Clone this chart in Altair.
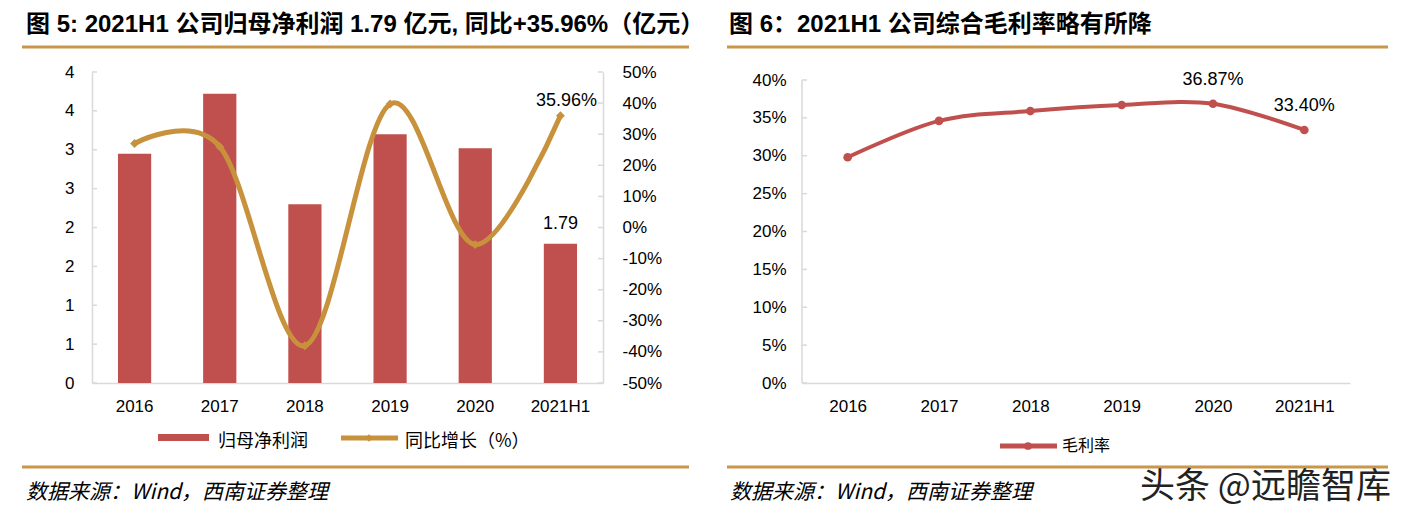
import altair as alt
import pandas as pd

# ---------------- data ----------------
years = ["2016", "2017", "2018", "2019", "2020", "2021H1"]
net_profit = [2.95, 3.72, 2.30, 3.20, 3.02, 1.79]          # 归母净利润（亿元）
growth = [27.0, 26.0, -38.0, 39.7, -5.5, 35.96]             # 同比增长（%）
gross_margin = [29.8, 34.6, 35.9, 36.7, 36.87, 33.40]       # 毛利率（%）

left_ticks = [0, 0.5, 1, 1.5, 2, 2.5, 3, 3.5, 4]
right_ticks = [-50, -40, -30, -20, -10, 0, 10, 20, 30, 40, 50]
gm_ticks = [0, 5, 10, 15, 20, 25, 30, 35, 40]

title_left = "图 5: 2021H1 公司归母净利润 1.79 亿元, 同比+35.96%（亿元）"
title_right = "图 6：2021H1 公司综合毛利率略有所降"
source_text = "数据来源：Wind，西南证券整理"
legend_bar = "归母净利润"
legend_line = "同比增长（%）"
legend_gm = "毛利率"
watermark = "头条 @远瞻智库"

# ---------------- styles ----------------
RED = "#C0504D"
GOLD = "#C8913C"
RULE = "#C9964A"
GREY = "#D9D9D9"
FONT = "Liberation Sans, Arial, Noto Sans CJK SC"
CJK = "Noto Sans CJK SC"
W1, W2, H = 511, 548, 311
GM_TOP = 40 * 311 / 303

one = pd.DataFrame({"k": [0]})
df1 = pd.DataFrame({"year": years, "profit": net_profit, "growth": growth})
df2 = pd.DataFrame({"year": years, "gm": gross_margin})


def txt(text, x, y, size, weight="normal", style="normal", font=FONT, color="black", align="left"):
    return alt.Chart(one).mark_text(
        text=text, align=align, baseline="middle", font=font, fontSize=size,
        fontWeight=weight, fontStyle=style, color=color
    ).encode(x=alt.value(x), y=alt.value(y))


def hrule(x1, x2, y, color=RULE, w=3):
    return alt.Chart(one).mark_rule(color=color, strokeWidth=w).encode(
        x=alt.value(x1), x2=alt.value(x2), y=alt.value(y))


label_axis = dict(labelFont=FONT, labelFontSize=17, labelColor="black", title=None,
                  labelOverlap=False)

# ---------------- left panel ----------------
x1 = alt.X("year:N", sort=years,
           scale=alt.Scale(paddingInner=0.61, paddingOuter=0.305),
           axis=alt.Axis(labelAngle=0, domainColor=GREY, domainWidth=1.5, ticks=False,
                         labelPadding=15, **label_axis))

sc_p = alt.Scale(domain=[0, 4], nice=False, zero=False)
sc_g = alt.Scale(domain=[-50, 50], nice=False, zero=False)

bars = alt.Chart(df1).mark_bar(color=RED).encode(
    x=x1,
    y=alt.Y("profit:Q", scale=sc_p,
            axis=alt.Axis(orient="left", values=left_ticks, labelExpr="'' + round(datum.value)",
                          domainColor=GREY, domainWidth=1.5, ticks=False, grid=False,
                          labelPadding=18, **label_axis)))

bar_label = alt.Chart(df1).transform_filter("datum.year == '2021H1'").mark_text(
    font=FONT, fontSize=18, baseline="bottom", dy=-11, color="black"
).encode(x=x1,
         y=alt.Y("profit:Q", scale=sc_p, axis=None),
         text=alt.Text("profit:Q", format=".2f"))

line = alt.Chart(df1).mark_line(color=GOLD, strokeWidth=5, interpolate="cardinal").encode(
    x=x1,
    y=alt.Y("growth:Q", scale=sc_g,
            axis=alt.Axis(orient="right", values=right_ticks, labelExpr="datum.value + '%'",
                          domainColor=GREY, domainWidth=1.5, ticks=False, grid=False,
                          labelPadding=19, **label_axis)))

pts = alt.Chart(df1).mark_point(shape="diamond", filled=True, size=80, color=GOLD, opacity=1).encode(
    x=x1,
    y=alt.Y("growth:Q", scale=sc_g, axis=None))

line_label = alt.Chart(df1).transform_filter("datum.year == '2021H1'").transform_calculate(
    lab="format(datum.growth, '.2f') + '%'"
).mark_text(font=FONT, fontSize=18, baseline="bottom", dy=-6, dx=6, color="black").encode(
    x=x1,
    y=alt.Y("growth:Q", scale=sc_g, axis=None),
    text="lab:N")

ticks_l = alt.Chart(pd.DataFrame({"v": left_ticks})).mark_rule(color=GREY, strokeWidth=1.5).encode(
    y=alt.Y("v:Q", scale=sc_p, axis=None), x=alt.value(0), x2=alt.value(5))
ticks_r = alt.Chart(pd.DataFrame({"v": right_ticks})).mark_rule(color=GREY, strokeWidth=1.5).encode(
    y=alt.Y("v:Q", scale=sc_g, axis=None), x=alt.value(W1 - 5), x2=alt.value(W1))

left_annot = [
    txt(title_left, -66, -47, 24, weight="bold"),
    hrule(-70, 597, -25),
    alt.Chart(one).mark_rect(color=RED).encode(
        x=alt.value(66), x2=alt.value(117), y=alt.value(362), y2=alt.value(369)),
    txt(legend_bar, 126, 370, 18, font=CJK),
    hrule(249, 306, 366, color=GOLD, w=5),
    alt.Chart(one).mark_point(shape="diamond", filled=True, size=60, color=GOLD, opacity=1).encode(
        x=alt.value(277), y=alt.value(366)),
    txt(legend_line, 313, 370, 18, font=CJK),
    hrule(-70, 597, 395),
    txt(source_text, -66, 421, 21, style="italic", font=CJK),
]

left = alt.layer(bars, bar_label, ticks_l, line, pts, line_label, ticks_r, *left_annot).resolve_scale(
    y="independent").properties(width=W1, height=H)

# ---------------- right panel ----------------
x2 = alt.X("year:N", sort=years, scale=alt.Scale(type="point", padding=0.5),
           axis=alt.Axis(labelAngle=0, domainColor=GREY, domainWidth=1.5, ticks=False,
                         labelPadding=15, **label_axis))
sc_m = alt.Scale(domain=[0, GM_TOP], nice=False, zero=False)
ax_m = alt.Axis(orient="left", values=gm_ticks, labelExpr="datum.value + '%'",
                domain=False, ticks=False, grid=False, labelPadding=16, **label_axis)

gm_axisline = alt.Chart(pd.DataFrame({"a": [0], "b": [40]})).mark_rule(color=GREY, strokeWidth=1.5).encode(
    y=alt.Y("a:Q", scale=sc_m, axis=ax_m), y2="b:Q", x=alt.value(0))
gm_ticks_l = alt.Chart(pd.DataFrame({"v": gm_ticks})).mark_rule(color=GREY, strokeWidth=1.5).encode(
    y=alt.Y("v:Q", scale=sc_m, axis=ax_m), x=alt.value(0), x2=alt.value(5))
gm_line = alt.Chart(df2).mark_line(color=RED, strokeWidth=4, interpolate="cardinal").encode(
    x=x2, y=alt.Y("gm:Q", scale=sc_m, axis=ax_m))
gm_pts = alt.Chart(df2).mark_point(shape="circle", filled=True, size=75, color=RED, opacity=1).encode(
    x=x2, y=alt.Y("gm:Q", scale=sc_m, axis=ax_m))
gm_lab = alt.Chart(df2).transform_filter("datum.year == '2020' || datum.year == '2021H1'").transform_calculate(
    lab="format(datum.gm, '.2f') + '%'"
).mark_text(font=FONT, fontSize=18, baseline="bottom", dy=-15, color="black").encode(
    x=x2, y=alt.Y("gm:Q", scale=sc_m, axis=ax_m), text="lab:N")

right_annot = [
    txt(title_right, -73, -47, 24, weight="bold"),
    hrule(-75, 586, -25),
    hrule(198, 255, 374, color=RED, w=5),
    alt.Chart(one).mark_point(shape="circle", filled=True, size=60, color=RED, opacity=1).encode(
        x=alt.value(226), y=alt.value(374)),
    txt(legend_gm, 260, 374, 16, font=CJK),
    hrule(-75, 586, 395),
    txt(source_text, -72, 421, 21, style="italic", font=CJK),
    txt(watermark, 338, 415, 35, font=CJK, color="#222222"),
]

right = alt.layer(gm_axisline, gm_ticks_l, gm_line, gm_pts, gm_lab, *right_annot).properties(
    width=W2, height=H)

chart = alt.hconcat(left, right, spacing=199, bounds="flush").properties(
    padding={"left": 12, "top": 5, "right": 5, "bottom": 5},
    background="white",
).configure_view(stroke=None)

chart.save("out.html", embed_options={"renderer": "svg", "actions": False})
